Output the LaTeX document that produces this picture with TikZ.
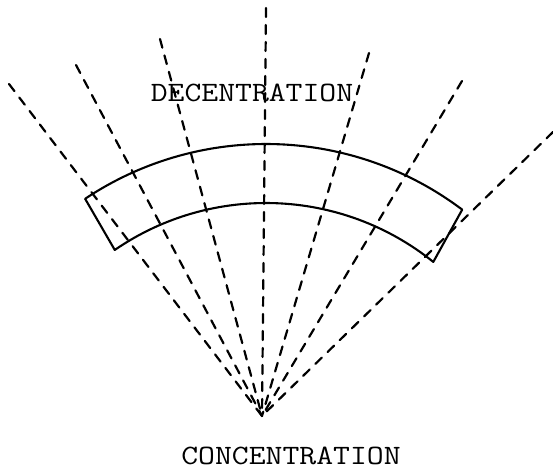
\documentclass[tikz,border=0pt]{standalone}
\usepackage{fontspec}
\usetikzlibrary{calc}
\begin{document}
\begin{tikzpicture}[x=1pt,y=1pt,
  ray/.style={line width=2.2pt,dash pattern=on 9pt off 8pt,line cap=round},
  band/.style={line width=2.1pt,line join=round},
  label/.style={font=\ttfamily\fontsize{28}{28}\selectfont,xscale=1.17,inner sep=0pt}]
\useasboundingbox (0,0) rectangle (553,473);
\coordinate (F) at (262,57);
\coordinate (C) at (266,3);
\coordinate (r1) at (9,389);
\coordinate (r2) at (76,408);
\coordinate (r3) at (160,434);
\coordinate (r4) at (266,465);
\coordinate (r5) at (369,420);
\coordinate (r6) at (462,392);
\coordinate (r7) at (553,341);
% band
\draw[band] ([shift={(123.7:326)}]C) arc[start angle=123.7,end angle=53,radius=326]
  -- ([shift={(51.2:267)}]C) arc[start angle=51.2,end angle=124.5,radius=267] -- cycle;
% rays
\foreach \r in {r1,r2,r3,r4,r5,r6,r7}{
  \draw[ray] (\r) -- (F);
}
\node[label] (dec) at (252,380) {DECENTRATION};
\node[label] (con) at (291,17) {CONCENTRATION};
\end{tikzpicture}
\end{document}
